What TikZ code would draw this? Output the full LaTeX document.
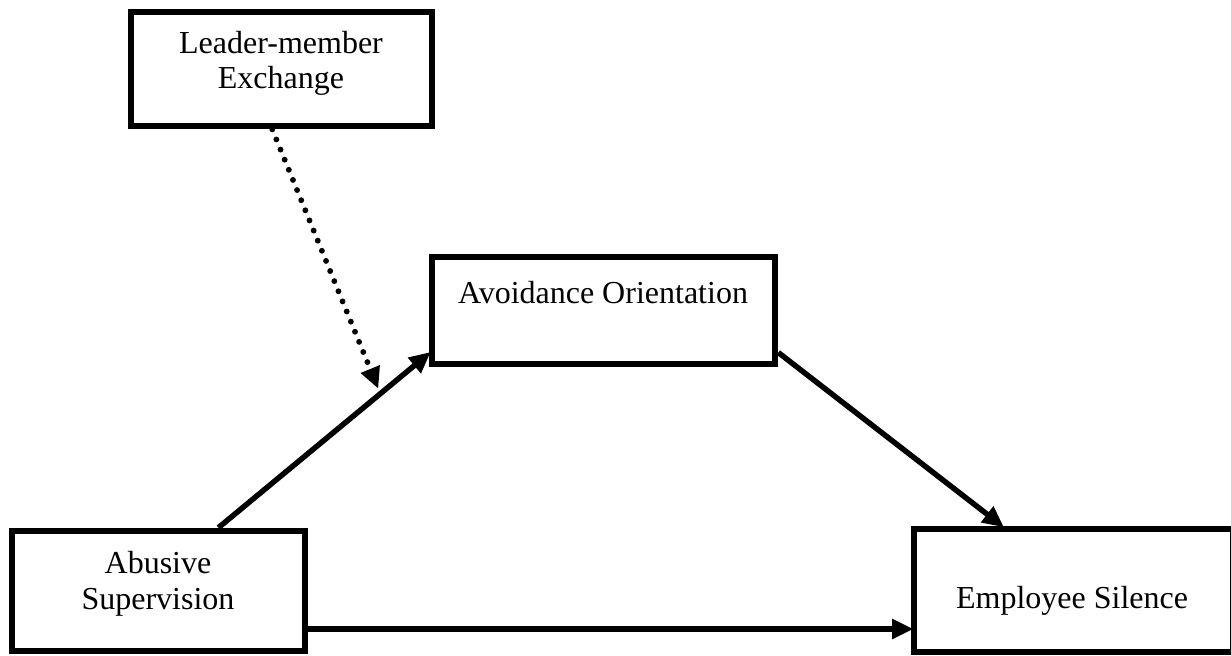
\documentclass[tikz,border=0pt]{standalone}
\usepackage{fontspec}
\setmainfont{Liberation Serif}
\usetikzlibrary{arrows.meta,calc,fit}
\begin{document}
\begin{tikzpicture}[x=0.375pt,y=-0.375pt,
  boxnode/.style={draw=black,line width=2.5pt,inner sep=0pt,fit={#1}},
  lbl/.style={anchor=base,inner sep=0pt,font=\fontsize{12}{14}\selectfont},
  arr/.style={line width=2.05pt,-{Triangle[length=8pt,width=7.2pt]}},
  dotarr/.style={line width=2.2pt,line cap=round,dash pattern=on 0pt off 4.1pt,
     -{Triangle[length=8pt,width=7.2pt]}}]
\useasboundingbox (0,0) rectangle (1231,656);
% boxes
\node[boxnode={(131,12) (432,126)}] (lmx) {};
\node[boxnode={(432,257) (775,364)}] (avo) {};
\node[boxnode={(12,531) (305,651)}] (abs) {};
\node[boxnode={(914,529) (1233,652)}] (emp) {};
% labels
\node[lbl] (lmxA) at (281,54) {Leader-member};
\node[lbl] (lmxB) at (281,89) {Exchange};
\node[lbl] (avoA) at (603,303) {Avoidance Orientation};
\node[lbl] (absA) at (158,573) {Abusive};
\node[lbl] (absB) at (158,609) {Supervision};
\node[lbl] (empA) at (1072,608) {Employee Silence};
% connectors
\coordinate (p1) at ($(abs.north west)!0.70!(abs.north east)$);
\coordinate (p2) at ($(avo.north west)!0.88!(avo.south west)$);
\draw[arr,shorten >=-1pt] (p1) -- (p2) coordinate[pos=0.77] (m);
\coordinate (p3) at ($(avo.north east)!0.87!(avo.south east)$);
\coordinate (p4) at ($(emp.north west)!0.28!(emp.north east)$);
\draw[arr,shorten >=-1pt] (p3) -- (p4);
\coordinate (p5) at ($(abs.north east)!0.80!(abs.south east)$);
\draw[arr,shorten >=-1pt] (p5) -- (p5 -| emp.west);
\coordinate (p6) at ($(lmx.south west)!0.47!(lmx.south east)$);
\draw[dotarr,shorten >=2pt] (p6) -- (m);
\end{tikzpicture}
\end{document}
